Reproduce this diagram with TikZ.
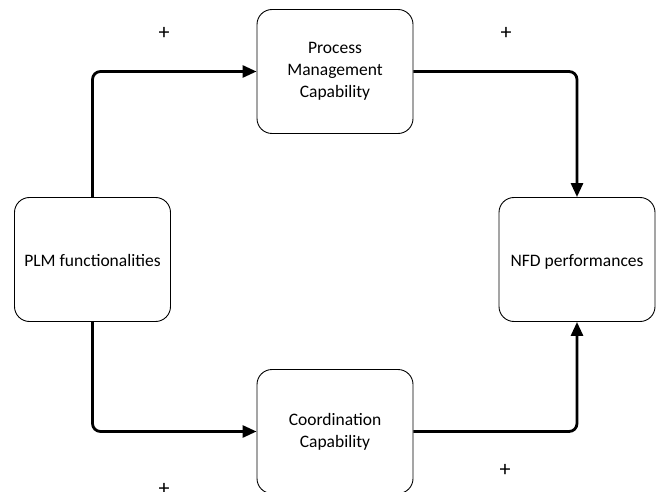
\documentclass[tikz,border=0pt]{standalone}
\usepackage{fontspec}
\setmainfont{Carlito}
\usetikzlibrary{arrows.meta}

\tikzset{
  capbox/.style={draw, line width=0.9pt, rounded corners=15pt, minimum width=156pt,
    minimum height=124pt, align=center, font=\fontsize{17.5}{22}\selectfont},
  oneline/.style={text height=14pt, text depth=0pt},
  link/.style={line width=2.8pt, rounded corners=8pt, -{Triangle[length=14pt,width=12pt]}},
  sign/.style={font=\fontsize{22}{24}\selectfont}
}

\begin{document}
\begin{tikzpicture}[x=1pt,y=-1pt]
\useasboundingbox (0,0) rectangle (659,492);

\node[capbox, oneline] (plm) at (92.5,259.5) {PLM functionalities};
\node[capbox] (pmc) at (335,71.5) {Process\\Management\\Capability};
\node[capbox] (coord) at (335,431.5) {Coordination\\Capability};
\node[capbox, oneline] (nfd) at (577,259.5) {NFD performances};

\draw[link] (plm.north) |- (pmc.west);
\draw[link] (pmc.east) -| (nfd.north);
\draw[link] (plm.south) |- (coord.west);
\draw[link] (coord.east) -| (nfd.south);

\node[sign] (s1) at (164,33) {+};
\node[sign] (s2) at (506,33) {+};
\node[sign] (s3) at (164,489) {+};
\node[sign] (s4) at (505,470) {+};
\end{tikzpicture}
\end{document}
